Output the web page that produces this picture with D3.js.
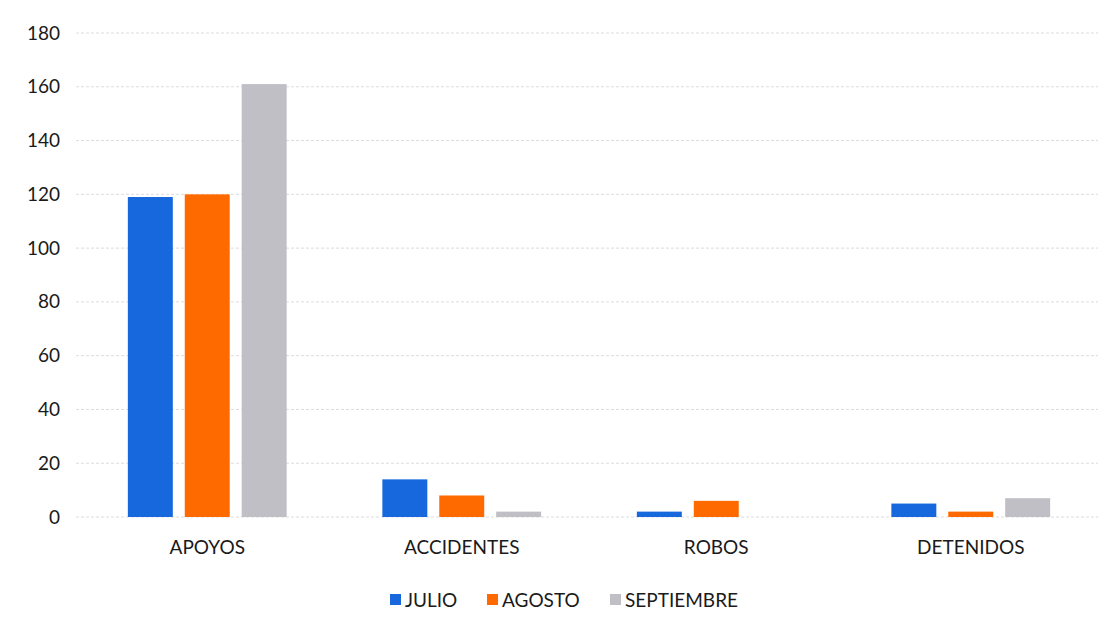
<!DOCTYPE html>
<html><head><meta charset="utf-8">
<script src="https://cdn.jsdelivr.net/npm/d3@7"></script>
<style>body{margin:0;background:#fff;}svg{display:block;}</style>
</head><body>
<svg id="c" width="1117" height="634"></svg>
<script>
const categories = ["APOYOS","ACCIDENTES","ROBOS","DETENIDOS"];
const seriesNames = ["JULIO","AGOSTO","SEPTIEMBRE"];
const julio = [119,14,2,5];
const agosto = [120,8,6,2];
const septiembre = [161,2,0,7];
const yTicks = [0,20,40,60,80,100,120,140,160,180];
const colors = ["#1668dc","#ff6a00","#bfbfc5"];

const series = [julio, agosto, septiembre];
const svg = d3.select("#c");
const font = "Lato, 'Open Sans', sans-serif";
const m = {left:80, right:19, top:33, bottom:117};
const W = 1117, H = 634;
const y = d3.scaleLinear().domain([0,180]).range([H-m.bottom, m.top]);
const x = d3.scaleBand().domain(categories).range([m.left, W-m.right]).paddingInner(0.376).paddingOuter(0.188);
const xs = d3.scaleBand().domain(seriesNames).range([0, x.bandwidth()]).paddingInner(0.21);

const grid = svg.append("g");
grid.selectAll("line").data(yTicks).join("line")
  .attr("x1", m.left-4).attr("x2", W-m.right)
  .attr("y1", d=>y(d)).attr("y2", d=>y(d))
  .attr("stroke","#dcdcdc").attr("stroke-width",1).attr("stroke-dasharray","3,2");

const yAxis = svg.append("g").attr("transform",`translate(${m.left},0)`)
  .call(d3.axisLeft(y).tickValues(yTicks).tickSize(0).tickPadding(20));
yAxis.select(".domain").remove();
yAxis.selectAll("text").attr("font-family",font).attr("font-size",19).attr("fill","#1a1a1a");

const g = svg.append("g");
categories.forEach((c,ci)=>{
  seriesNames.forEach((s,si)=>{
    const v = series[si][ci];
    g.append("rect")
      .attr("x", x(c)+xs(s)).attr("width", xs.bandwidth())
      .attr("y", y(v)).attr("height", y(0)-y(v))
      .attr("fill", colors[si]);
  });
});

const xAxis = svg.append("g").attr("transform",`translate(0,${y(0)})`)
  .call(d3.axisBottom(x).tickSize(0).tickPadding(24));
xAxis.select(".domain").remove();
xAxis.selectAll("text").attr("font-family",font).attr("font-size",19).attr("fill","#1a1a1a");

const legendX = [390, 487, 610];
const lg = svg.append("g");
seriesNames.forEach((s,i)=>{
  lg.append("rect").attr("x",legendX[i]).attr("y",594).attr("width",11).attr("height",11).attr("fill",colors[i]);
  lg.append("text").attr("x",legendX[i]+15).attr("y",607).text(s)
    .attr("font-family",font).attr("font-size",19).attr("fill","#1a1a1a");
});
</script>
</body></html>
